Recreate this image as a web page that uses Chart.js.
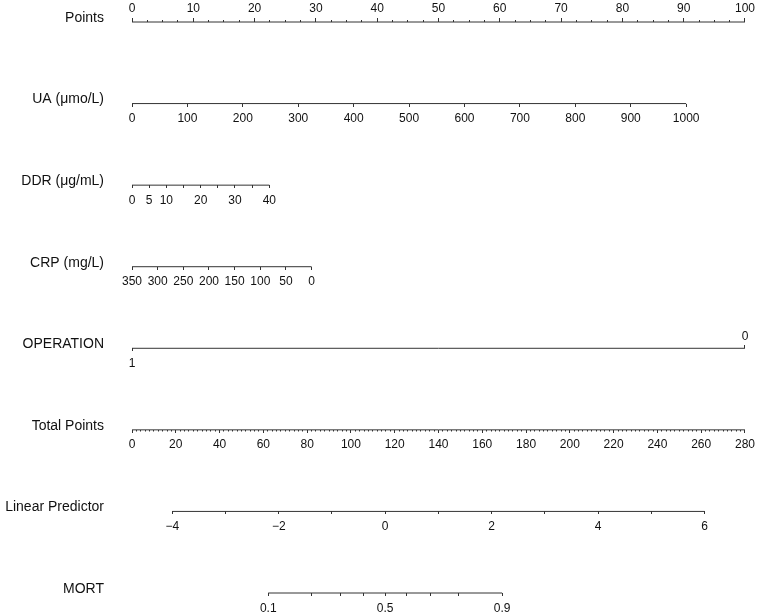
<!DOCTYPE html>
<html>
<head>
<meta charset="utf-8">
<script src="https://cdn.jsdelivr.net/npm/chart.js@4.4.1/dist/chart.umd.min.js"></script>
<style>
  body { margin: 0; background: #fff; }
</style>
</head>
<body>
<canvas id="nomogram" width="760" height="612"></canvas>
<script>
const rowNames = ['Points', 'UA (μmo/L)', 'DDR (μg/mL)', 'CRP (mg/L)', 'OPERATION', 'Total Points', 'Linear Predictor', 'MORT'];

// points scale
const pointTicks = [0, 10, 20, 30, 40, 50, 60, 70, 80, 90, 100];
const pointMinorStep = 2.5;

// predictors: tick values + points at first / last tick
const uaTicks = [0, 100, 200, 300, 400, 500, 600, 700, 800, 900, 1000];
const uaPoints = [0, 90.4];

const ddrTicks = [0, 5, 10, 15, 20, 25, 30, 35, 40];
const ddrLabels = [0, 5, 10, 20, 30, 40];
const ddrPoints = [0, 22.4];

const crpTicks = [350, 300, 250, 200, 150, 100, 50, 0];
const crpPoints = [0, 29.3];

const opTicks = [1, 0];
const opPoints = [0, 100];

// total points, linear predictor, risk
const totalTicks = [0, 20, 40, 60, 80, 100, 120, 140, 160, 180, 200, 220, 240, 260, 280];
const totalMinorStep = 2;
const totalMax = 280;

const lpTicks = [-4, -3, -2, -1, 0, 1, 2, 3, 4, 5, 6];
const lpLabels = [-4, -2, 0, 2, 4, 6];
const lpTotal = [18.4, 261.5]; // total points at -4 and 6

const mortTicks = [0.1, 0.2, 0.3, 0.4, 0.5, 0.6, 0.7, 0.8, 0.9];
const mortLabels = [0.1, 0.5, 0.9];

const LINE = '#333';
const TEXT = '#111';
Chart.defaults.font.family = "'Liberation Sans', Arial, sans-serif";
Chart.defaults.color = TEXT;

const logit = p => Math.log(p / (1 - p));
const steps = (a, b, s) => { const out = []; for (let v = a; v <= b + 1e-9; v += s) out.push(v); return out; };
const fmtMinus = v => (v < 0 ? '\u2212' + Math.abs(v) : String(v));

// value range an axis needs so that v0 sits at p0 points and v1 at p1 points
function span(v0, v1, p0, p1) {
  const k = (v1 - v0) / (p1 - p0);
  const left = v0 - p0 * k;
  const right = v0 + (100 - p0) * k;
  return { min: Math.min(left, right), max: Math.max(left, right), reverse: left > right };
}

function rowAxis(row, range, ticks, o) {
  o = o || {};
  return {
    type: 'linear',
    axis: 'x',
    position: { y: row },
    min: range.min,
    max: range.max,
    reverse: range.reverse,
    bounds: 'data',
    afterBuildTicks: s => { s.ticks = ticks.map(v => ({ value: v })); },
    grid: { display: true, drawOnChartArea: false, drawTicks: true, tickLength: o.tl ?? 3, color: LINE, tickColor: LINE, tickWidth: 1 },
    border: { display: false },
    ticks: {
      display: o.labels !== false,
      autoSkip: false,
      maxRotation: 0,
      minRotation: 0,
      padding: o.pad ?? 5,
      color: TEXT,
      font: { size: 12 },
      callback: o.fmt || (v => String(v))
    }
  };
}

const pointsRange = span(0, 100, 0, 100);
const uaRange = span(uaTicks[0], uaTicks[uaTicks.length - 1], uaPoints[0], uaPoints[1]);
const ddrRange = span(ddrTicks[0], ddrTicks[ddrTicks.length - 1], ddrPoints[0], ddrPoints[1]);
const crpRange = span(crpTicks[0], crpTicks[crpTicks.length - 1], crpPoints[0], crpPoints[1]);
const opRange = span(opTicks[0], opTicks[1], opPoints[0], opPoints[1]);
const totalRange = span(0, totalMax, 0, 100);
const lpRange = span(lpTicks[0], lpTicks[lpTicks.length - 1], lpTotal[0] * 100 / totalMax, lpTotal[1] * 100 / totalMax);

function rowLine(axis, row, a, b) {
  return {
    xAxisID: axis, yAxisID: 'y',
    data: [{ x: a, y: row }, { x: b, y: row }],
    borderColor: LINE, borderWidth: 1, pointRadius: 0, clip: false
  };
}

const datasets = [
  rowLine('x', 0, 0, 100),
  rowLine('ua', 1, uaTicks[0], uaTicks[uaTicks.length - 1]),
  rowLine('ddr', 2, ddrTicks[0], ddrTicks[ddrTicks.length - 1]),
  rowLine('crp', 3, crpTicks[0], crpTicks[crpTicks.length - 1]),
  rowLine('op1', 4, opTicks[0], opTicks[1]),
  rowLine('tot', 5, 0, totalMax),
  rowLine('lp', 6, lpTicks[0], lpTicks[lpTicks.length - 1]),
  rowLine('mort', 7, logit(mortTicks[0]), logit(mortTicks[mortTicks.length - 1]))
];

const config = {
  type: 'line',
  data: { datasets },
  options: {
    responsive: false,
    animation: false,
    layout: { padding: { left: 0, top: 22, right: 14, bottom: 19 } },
    plugins: { legend: { display: false }, tooltip: { enabled: false } },
    scales: {
      y: {
        type: 'linear',
        axis: 'y',
        position: 'left',
        min: 0, max: 7, reverse: true,
        afterBuildTicks: s => { s.ticks = rowNames.map((n, i) => ({ value: i })); },
        afterFit: s => { s.width = 132; s.paddingTop = 0; s.paddingBottom = 0; },
        grid: { display: false, drawTicks: false },
        border: { display: false },
        ticks: { padding: 28, labelOffset: -4, color: TEXT, font: { size: 14 }, callback: v => rowNames[v] }
      },
      x: rowAxis(0, pointsRange, pointTicks, { tl: -4, pad: -17 }),
      xMinor: rowAxis(0, pointsRange, steps(0, 100, pointMinorStep), { tl: -2, labels: false }),
      ua: rowAxis(1, uaRange, uaTicks),
      ddr: rowAxis(2, ddrRange, ddrTicks, { fmt: v => (ddrLabels.includes(v) ? String(v) : '') }),
      crp: rowAxis(3, crpRange, crpTicks),
      op1: rowAxis(4, opRange, [opTicks[0]]),
      op0: rowAxis(4, opRange, [opTicks[1]], { tl: -3, pad: -16 }),
      tot: rowAxis(5, totalRange, totalTicks),
      totMinor: rowAxis(5, totalRange, steps(0, totalMax, totalMinorStep), { tl: 1.5, labels: false }),
      lp: rowAxis(6, lpRange, lpTicks, { fmt: v => (lpLabels.includes(v) ? fmtMinus(v) : '') }),
      mort: rowAxis(7, lpRange, mortTicks.map(logit), {
        fmt: (v, i) => (mortLabels.includes(mortTicks[i]) ? String(mortTicks[i]) : '')
      })
    }
  }
};

const nomogram = new Chart(document.getElementById('nomogram'), config);
</script>
</body>
</html>
